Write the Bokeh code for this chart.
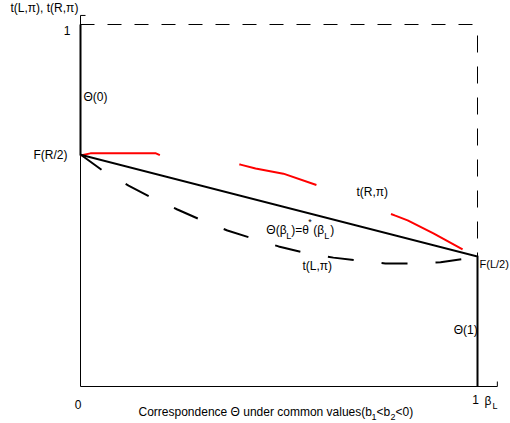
from bokeh.plotting import figure
from bokeh.models import Range1d, Label
from bokeh.embed import file_html
from bokeh.resources import INLINE

# --- values ---------------------------------------------------------------
f_r_half = 0.640      # F(R/2), left end of the linear branch
f_l_half = 0.359      # F(L/2), right end of the linear branch
top_value = 1.0

# correspondence Θ: Θ(0) vertical, Θ(β_L)=θ*(β_L) linear, Θ(1) vertical
theta_x = [0.0, 0.0, 1.0, 1.0]
theta_y = [top_value, f_r_half, f_l_half, 0.0]

# t(R, π) (red, long dashes)
tr_x = [0.0, 0.025, 0.19, 0.202, 0.403, 0.441, 0.511, 0.599, 0.793, 0.824, 0.889, 0.977, 1.0]
tr_y = [0.638, 0.644, 0.644, 0.638, 0.613, 0.602, 0.588, 0.555, 0.472, 0.459, 0.423, 0.370, 0.359]

# t(L, π) (black, dashed)
tl_x = [0.0, 0.055, 0.121, 0.179, 0.244, 0.302, 0.370, 0.433, 0.499, 0.562,
        0.637, 0.698, 0.768, 0.836, 0.907, 0.975, 1.0]
tl_y = [0.641, 0.597, 0.555, 0.522, 0.489, 0.461, 0.431, 0.409, 0.387, 0.370,
        0.356, 0.348, 0.340, 0.340, 0.343, 0.354, 0.359]

# extent of the hand-drawn axes
x_end = 1.050
y_end = 1.025

# --- layout ---------------------------------------------------------------
W, H = 510, 423
PX_X = 397.0     # pixels per unit along x
PX_Y = 362.0     # pixels per unit along y
LEFT, BOTTOM = 80, 37   # position of the origin inside the canvas

FONT = "Liberation Sans"

p = figure(width=W, height=H, output_backend="svg", toolbar_location=None,
           x_range=Range1d(-LEFT / PX_X, (W - LEFT) / PX_X),
           y_range=Range1d(-BOTTOM / PX_Y, (H - BOTTOM) / PX_Y),
           x_axis_type=None, y_axis_type=None, min_border=0)
p.outline_line_color = None
p.grid.visible = False
p.background_fill_color = "white"
p.border_fill_color = "white"

tick_x = 5 / PX_X
tick_y = 5 / PX_Y

# axes with a short inward tick at each far end
p.line([0, 0], [0, y_end], line_color="black", line_width=1)
p.line([0, tick_x], [y_end, y_end], line_color="black", line_width=1)
p.line([0, x_end], [0, 0], line_color="black", line_width=1)
p.line([x_end, x_end], [0, tick_y], line_color="black", line_width=1)

# guide lines at the value 1
p.line([0, 1], [top_value, top_value], line_color="black", line_width=1, line_dash="14 13")
p.line([1, 1], [top_value, f_l_half], line_color="black", line_width=1,
       line_dash="17 14", line_dash_offset=20)

# t(L, π)
p.line(tl_x, tl_y, line_color="black", line_width=2, line_dash="26 28")
# t(R, π)
p.line(tr_x, tr_y, line_color="#ff0000", line_width=2, line_dash="80 80")
# Θ
p.line(theta_x, theta_y, line_color="black", line_width=2, line_join="miter")


def lab(text, x, y, dx=0, dy=0, align="left", size=12):
    p.add_layout(Label(x=x, y=y, x_offset=dx, y_offset=dy, text=text,
                       text_align=align, text_baseline="middle",
                       text_font=FONT, text_font_size=f"{size}px", text_color="black"))


# vertical axis title and tick texts
lab("t(L,\u03c0), t(R,\u03c0)", 0, y_end, dx=-70, dy=7)
lab("1", 0, top_value, dx=-10, dy=-6, align="right")
lab("F(R/2)", 0, f_r_half, dx=-13, dy=0, align="right")

# curve labels
lab("\u0398(0)", 0, 0.80, dx=3)
lab("t(R,\u03c0)", 0.695, 0.536)
gx, gy = 0.468, 0.431
lab("\u0398(\u03b2", gx, gy)
lab("L", gx, gy, dx=20, dy=-6, size=9)
lab(")=\u03b8", gx, gy, dx=25)
lab("*", gx, gy, dx=42, dy=8, size=9)
lab("(\u03b2", gx, gy, dx=47)
lab("L", gx, gy, dx=58, dy=-6, size=9)
lab(")", gx, gy, dx=64)
lab("t(L,\u03c0)", 0.559, 0.334)
lab("F(L/2)", 1, f_l_half, dx=2, dy=-7, size=11)
lab("\u0398(1)", 0.940, 0.157)

# horizontal axis texts
lab("0", 0, 0, dx=-2.5, dy=-18, align="center")
lab("1", 1, 0, dx=-2, dy=-13, align="center")
lab("\u03b2", 1, 0, dx=7, dy=-14)
lab("L", 1, 0, dx=15, dy=-19, size=9)
lab("Correspondence \u0398 under common values(b", 0, 0, dx=58, dy=-25)
lab("1", 0, 0, dx=291, dy=-30, size=9)
lab("<b", 0, 0, dx=296, dy=-25)
lab("2", 0, 0, dx=310, dy=-30, size=9)
lab("<0)", 0, 0, dx=315, dy=-25)

open("out.html", "w").write(file_html(p, INLINE))
